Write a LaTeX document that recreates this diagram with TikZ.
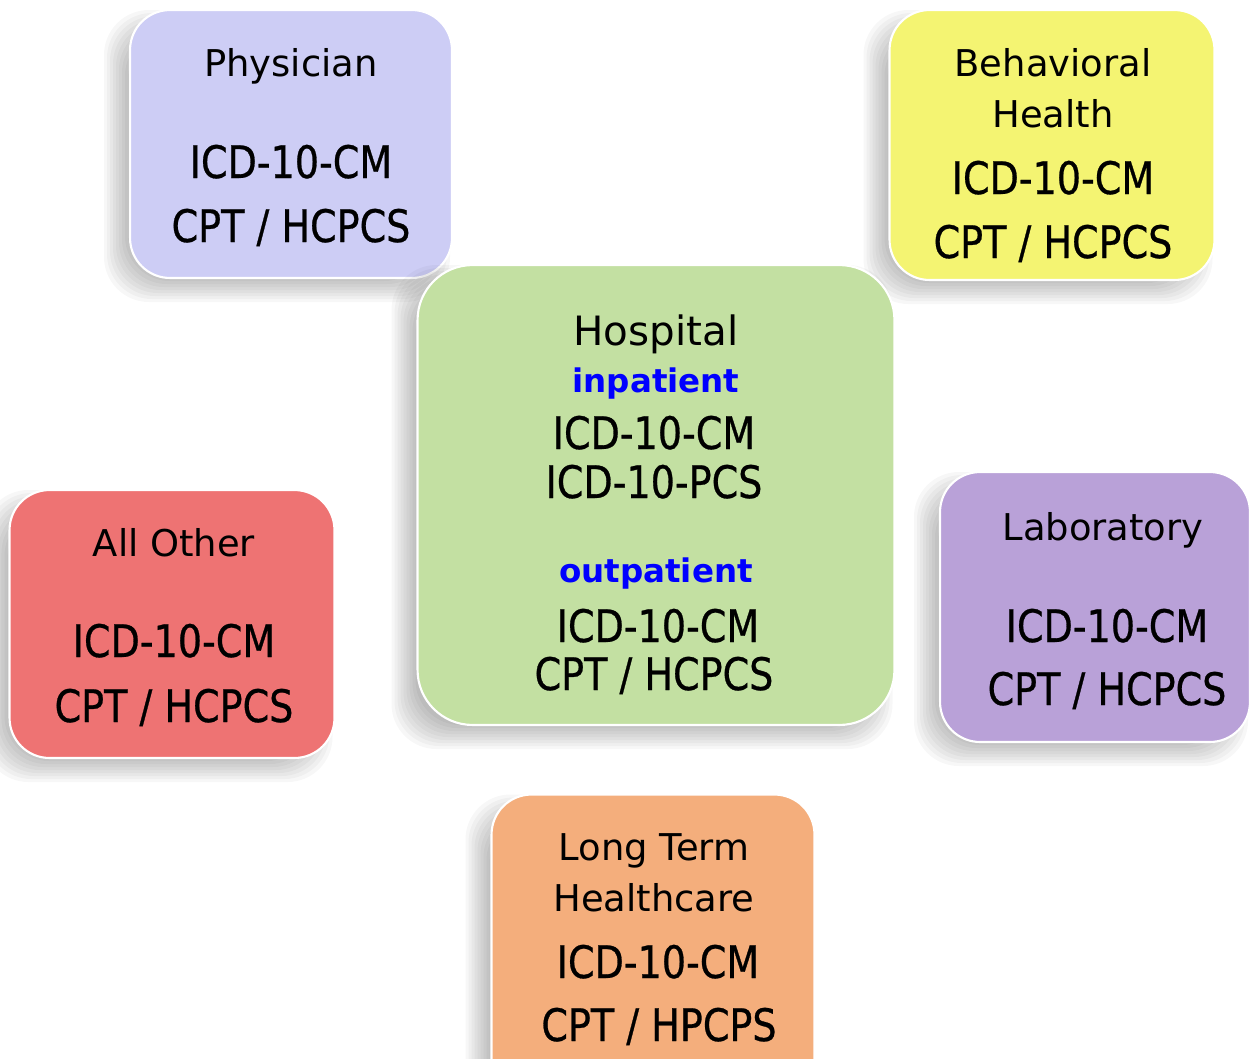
\documentclass[tikz,border=0pt]{standalone}
\usepackage{fontspec}
\setmainfont{DejaVu Sans}
\newfontfamily\codefont[FakeStretch=0.85,FakeBold=0.6]{DejaVu Sans}
\definecolor{physc}{HTML}{CDCDF5}
\definecolor{behavc}{HTML}{F4F472}
\definecolor{hospc}{HTML}{C3E0A2}
\definecolor{otherc}{HTML}{EE7373}
\definecolor{labc}{HTML}{B9A1D8}
\definecolor{ltcc}{HTML}{F4AE7C}
% soft shadow below-left of a panel: centre x, centre y, width, height (px)
\newcommand\softshadow[4]{%
	\foreach \d in {-12,-9,...,12}{%
		\fill[black,opacity=0.03,rounded corners=0.9cm]
			({#1-14-#3/2-\d},{#2+12-#4/2-\d}) rectangle ({#1-14+#3/2+\d},{#2+12+#4/2+\d});}}
\begin{document}
\begin{tikzpicture}[x=0.02cm,y=-0.02cm,
	panel/.style={rounded corners=0.8cm,draw=white,line width=1.2pt,inner sep=0pt,outer sep=0pt},
	title/.style={anchor=base,font=\fontsize{21}{25}\selectfont},
	code/.style={anchor=base,font=\codefont\fontsize{25.5}{30}\selectfont},
	care/.style={anchor=base,text=blue,font=\bfseries\fontsize{18.5}{22}\selectfont}]
	\clip (0,0) rectangle (1252,1059);
	\fill[white] (0,0) rectangle (1252,1059);
	
	% physician
	\softshadow{291}{144}{322}{268}
	\node[panel,fill=physc,minimum width=6.44cm,minimum height=5.36cm] (phys) at (291,144) {};
	\node[title] (physname) at (291,76) {Physician};
	\node[code] (physicd) at (291,178) {ICD-10-CM};
	\node[code] (physcpt) at (291,242) {CPT / HCPCS};
	
	% behavioral health
	\softshadow{1052}{145}{325}{270}
	\node[panel,fill=behavc,minimum width=6.5cm,minimum height=5.4cm] (behav) at (1052,145) {};
	\node[title] (behavname) at (1053,76) {Behavioral};
	\node[title] (behavname2) at (1053,127) {Health};
	\node[code] (behavicd) at (1053,194) {ICD-10-CM};
	\node[code] (behavcpt) at (1053,258) {CPT / HCPCS};
	
	% hospital
	\softshadow{656}{495}{477}{460}
	\node[panel,rounded corners=1.1cm,fill=hospc,minimum width=9.54cm,minimum height=9.2cm] (hosp) at (656,495) {};
	\node[title,font=\fontsize{23}{27}\selectfont] (hospname) at (656,345) {Hospital};
	\node[care] (hospin) at (656,392) {inpatient};
	\node[code] (hospicd) at (654,449) {ICD-10-CM};
	\node[code] (hosppcs) at (654,498) {ICD-10-PCS};
	\node[care] (hospout) at (656,582) {outpatient};
	\node[code] (hospicd2) at (658,642) {ICD-10-CM};
	\node[code] (hospcpt) at (654,690) {CPT / HCPCS};
	
	% all other
	\softshadow{172}{624}{325}{268}
	\node[panel,fill=otherc,minimum width=6.5cm,minimum height=5.36cm] (other) at (172,624) {};
	\node[title] (othername) at (174,556) {All Other};
	\node[code] (othericd) at (174,657) {ICD-10-CM};
	\node[code] (othercpt) at (174,722) {CPT / HCPCS};
	
	% laboratory
	\softshadow{1095}{607}{310}{270}
	\node[panel,fill=labc,minimum width=6.2cm,minimum height=5.4cm] (lab) at (1095,607) {};
	\node[title] (labname) at (1103,540) {Laboratory};
	\node[code] (labicd) at (1107,642) {ICD-10-CM};
	\node[code] (labcpt) at (1107,705) {CPT / HCPCS};
	
	% long term healthcare
	\softshadow{653}{947}{323}{305}
	\node[panel,fill=ltcc,minimum width=6.46cm,minimum height=6.1cm] (ltc) at (653,947) {};
	\node[title] (ltcname) at (654,860) {Long Term};
	\node[title] (ltcname2) at (654,911) {Healthcare};
	\node[code] (ltcicd) at (658,978) {ICD-10-CM};
	\node[code] (ltccpt) at (659,1041) {CPT / HPCPS};
\end{tikzpicture}
\end{document}
